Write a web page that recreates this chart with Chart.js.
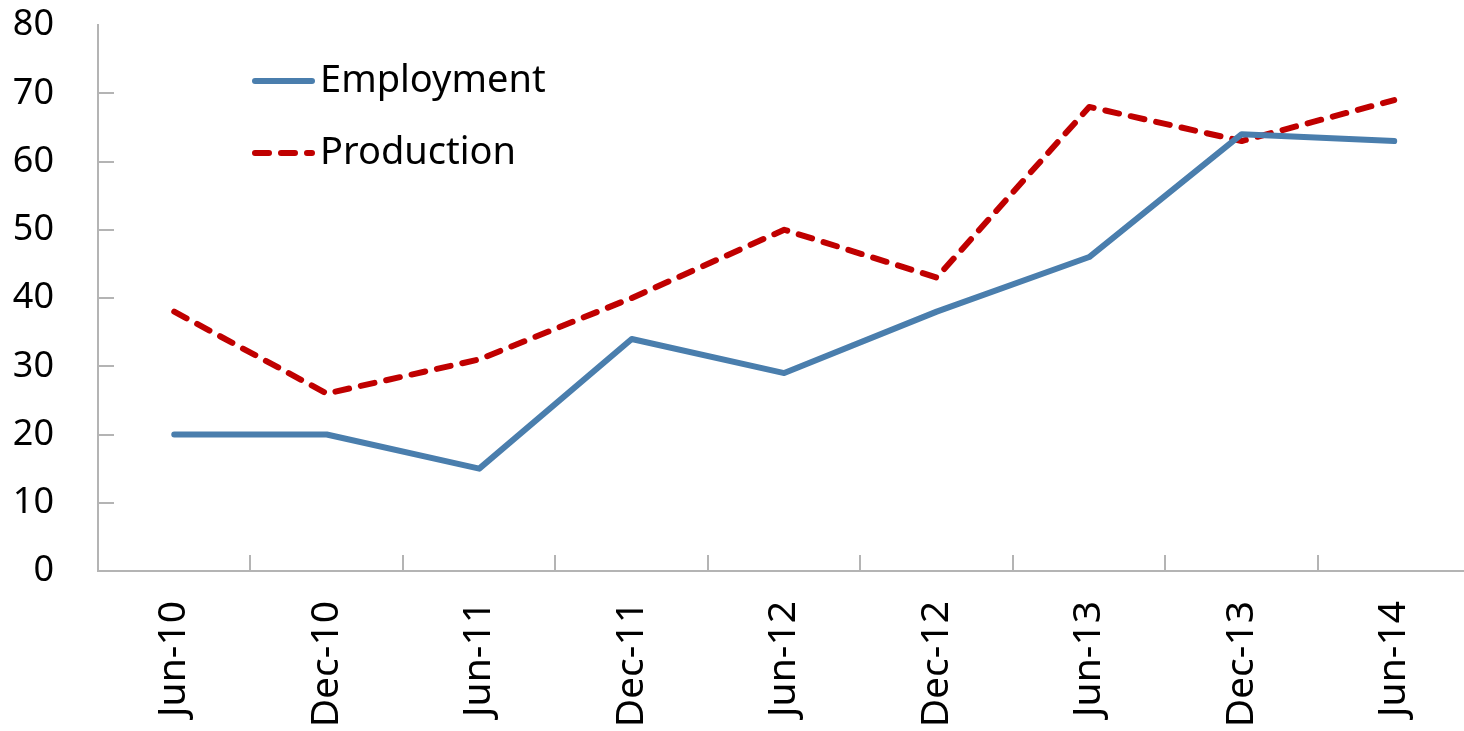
<!DOCTYPE html>
<html>
<head>
<meta charset="utf-8">
<script src="https://cdn.jsdelivr.net/npm/chart.js@4"></script>
<style>
  html, body { margin: 0; padding: 0; background: #fff; overflow: hidden; }
  #wrap { width: 1471px; height: 731px; }
</style>
</head>
<body>
<div id="wrap"><canvas id="mychart" width="1471" height="731"></canvas></div>
<script>
const categories = ["Jun-10", "Dec-10", "Jun-11", "Dec-11", "Jun-12", "Dec-12", "Jun-13", "Dec-13", "Jun-14"];
const employment = [20, 20, 15, 34, 29, 38, 46, 64, 63];
const production = [38, 26, 31, 40, 50, 43, 68, 63, 69];
const yTicks = [0, 10, 20, 30, 40, 50, 60, 70, 80];

const axisColor = "#b4b4b4";
const fontFamily = "'Noto Sans', 'Open Sans', sans-serif";

// ticks that point into the plot, like the Excel original
const innerTicks = {
  id: "innerTicks",
  afterDatasetsDraw(chart) {
    const ctx = chart.ctx;
    const x = chart.scales.x;
    const y = chart.scales.y;
    ctx.save();
    ctx.strokeStyle = axisColor;
    ctx.lineWidth = 2;
    ctx.beginPath();
    yTicks.forEach((v) => {
      if (v === 0 || v === 80) return;
      const py = Math.round(y.getPixelForValue(v));
      ctx.moveTo(x.left, py);
      ctx.lineTo(x.left + 16, py);
    });
    for (let i = 1; i < categories.length; i++) {
      const px = Math.round((x.getPixelForValue(i - 1) + x.getPixelForValue(i)) / 2);
      ctx.moveTo(px, y.bottom);
      ctx.lineTo(px, y.bottom - 16);
    }
    ctx.stroke();
    ctx.restore();
  },
};

// legend drawn inside the plot area
const innerLegend = {
  id: "innerLegend",
  afterDraw(chart) {
    const ctx = chart.ctx;
    const rows = [81, 153];
    ctx.save();
    chart.data.datasets.forEach((ds, i) => {
      const yy = rows[i];
      ctx.strokeStyle = ds.borderColor;
      ctx.lineWidth = ds.borderWidth;
      ctx.lineCap = ds.borderCapStyle || "butt";
      ctx.setLineDash(ds.borderDash || []);
      ctx.beginPath();
      ctx.moveTo(255, yy);
      ctx.lineTo(312, yy);
      ctx.stroke();
      ctx.setLineDash([]);
      ctx.fillStyle = "#000";
      ctx.font = "38px " + fontFamily;
      ctx.textBaseline = "middle";
      ctx.fillText(ds.label, 320, yy);
    });
    ctx.restore();
  },
};

const ctx = document.getElementById("mychart").getContext("2d");
window.myChart = new Chart(ctx, {
  type: "line",
  data: {
    labels: categories,
    datasets: [
      {
        label: "Employment",
        data: employment,
        borderColor: "rgb(74, 126, 173)",
        backgroundColor: "rgb(74, 126, 173)",
        borderWidth: 6,
        borderCapStyle: "round",
        borderJoinStyle: "round",
        pointRadius: 0,
        tension: 0,
        fill: false,
      },
      {
        label: "Production",
        data: production,
        borderColor: "rgb(192, 0, 0)",
        backgroundColor: "rgb(192, 0, 0)",
        borderWidth: 6,
        borderDash: [14, 12],
        borderCapStyle: "round",
        borderJoinStyle: "round",
        pointRadius: 0,
        tension: 0,
        fill: false,
      },
    ],
  },
  options: {
    responsive: false,
    animation: false,
    layout: { padding: { top: 25, right: 0, left: 0, bottom: 0 } },
    plugins: {
      legend: { display: false },
      tooltip: { enabled: false },
    },
    scales: {
      x: {
        offset: true,
        grid: { display: true, drawOnChartArea: false, drawTicks: false },
        border: { display: true, color: axisColor, width: 2 },
        ticks: {
          color: "#000",
          font: { family: fontFamily, size: 39 },
          minRotation: 90,
          maxRotation: 90,
          padding: 30,
          autoSkip: false,
        },
        afterFit(scale) { scale.height = 160; },
      },
      y: {
        min: 0,
        max: 80,
        grid: { display: true, drawOnChartArea: false, drawTicks: false },
        border: { display: true, color: axisColor, width: 2 },
        ticks: {
          stepSize: 10,
          color: "#000",
          font: { family: fontFamily, size: 36 },
          padding: 44,
        },
        afterFit(scale) {
          scale.width = 98;
          // keep the label padding from pushing the plot down
          scale.paddingTop = 0;
          scale.paddingBottom = 0;
        },
      },
    },
  },
  plugins: [innerTicks, innerLegend],
});
</script>
</body>
</html>
